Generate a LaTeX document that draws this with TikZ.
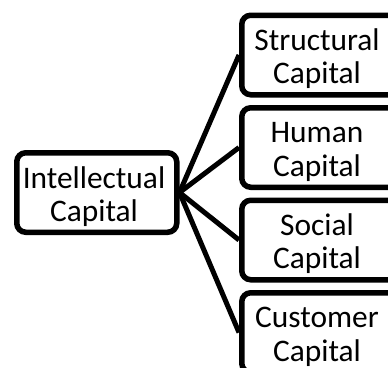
\documentclass[tikz,border=0pt]{standalone}
\usepackage{fontspec}
\setmainfont{Carlito}
\begin{document}
\begin{tikzpicture}[x=1pt,y=-1pt,
  box/.style={draw=black, line width=5.5pt, rounded corners=9pt, minimum height=79.5pt, inner sep=0pt, anchor=north west},
  lbl/.style={font=\fontsize{31.4pt}{33pt}\selectfont, anchor=base, inner sep=0pt},
  link/.style={line width=5pt}]
\useasboundingbox (0,0) rectangle (388,367);
\node[box, minimum width=160pt] (ic) at (14,150) {};
\node[box, minimum width=156pt] (sc) at (239,12.5) {};
\node[box, minimum width=156pt] (hc) at (239,105) {};
\node[box, minimum width=156pt] (soc) at (239,197.5) {};
\node[box, minimum width=156pt] (cc) at (239,290) {};
\node[lbl] (ict1) at (94,188) {Intellectual};
\node[lbl] (ict2) at (94,221.5) {Capital};
\node[lbl] (sct1) at (317,50) {Structural};
\node[lbl] (sct2) at (317,83.5) {Capital};
\node[lbl] (hct1) at (317,142.5) {Human};
\node[lbl] (hct2) at (317,176) {Capital};
\node[lbl] (soct1) at (317,235) {Social};
\node[lbl] (soct2) at (317,268.5) {Capital};
\node[lbl] (cct1) at (317,327.5) {Customer};
\node[lbl] (cct2) at (317,361) {Capital};
\draw[link] (ic.east) -- (sc.west);
\draw[link] (ic.east) -- (hc.west);
\draw[link] (ic.east) -- (soc.west);
\draw[link] (ic.east) -- (cc.west);
\end{tikzpicture}
\end{document}
